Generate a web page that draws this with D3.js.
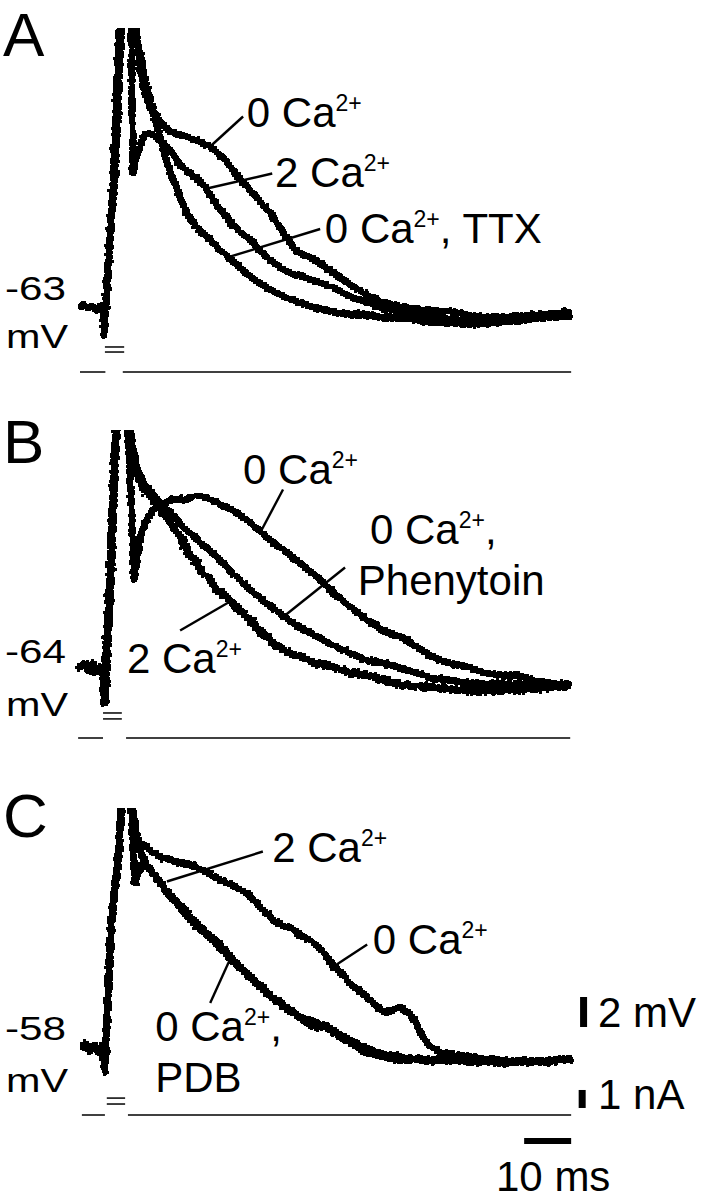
<!DOCTYPE html>
<html lang="en">
<head>
<meta charset="utf-8">
<title>Ca2+ traces</title>
<script src="https://d3js.org/d3.v7.min.js"></script>
<style>
body { margin: 0; background: #fff; }
.trace { fill: none; stroke: #000; stroke-width: 3.4; stroke-linejoin: round; }
.thin { stroke: #000; stroke-width: 1.5; fill: none; }
text { font-family: "Liberation Sans", Arial, sans-serif; fill: #000; }
</style>
</head>
<body>
<div id="container"></div>
<script>
// time in ms, voltage in mV relative to rest, current in nA

// ---- panel A ----
var preA = [[0,0],[0.9,0.2],[1.7,-0.1],[2.6,0.1],[3.4,-0.2],[4.3,0.1],[4.9,-0.1],[5.1,-1.9]];
var a0Ca = [[5.7,1.1],[6.4,4.5],[7.0,7.1],[7.7,11.1],[8.3,15.8],[8.7,18.6],[10.0,23],[11.9,18.6],[12.3,17.1],[12.8,16.0],[13.6,14.5],[14.9,13.3],[16.4,12.7],[18.1,12.0],[19.8,11.6],[22.3,11.4],[25.5,11.0],[27.7,10.7],[29.1,10.3],[30.9,9.8],[32.6,9.1],[34.7,8.3],[36.8,7.6],[38.9,6.8],[41.1,6.0],[43.2,5.0],[45.3,4.0],[46.8,3.6],[50.4,3.1],[53.8,2.3],[57.4,1.5],[61.1,0.8],[64.5,0.3],[68.1,0.0],[73.4,-0.2],[78.7,-0.3],[84.0,-0.6],[89.4,-0.7],[93.6,-0.6],[98.9,-0.5],[104.5,-0.3]];
var a2Ca = [[5.5,0.5],[6.2,3.8],[6.8,7.1],[7.4,11.1],[8.1,16.5],[8.4,18.6],[9.6,23],[10.9,18.6],[11.1,13.8],[11.3,8.9],[11.9,9.8],[12.8,10.8],[13.8,11.5],[14.9,11.6],[16.2,11.3],[17.7,10.9],[19.1,10.5],[21.3,9.5],[23.4,8.9],[25.5,8.4],[27.0,7.8],[29.1,6.8],[30.9,6.1],[32.6,5.4],[34.5,4.9],[36.2,4.5],[37.9,3.9],[39.8,3.3],[41.5,2.9],[43.2,2.5],[45.1,2.2],[46.8,2.1],[50.4,1.7],[53.8,1.3],[57.4,0.7],[61.1,0.3],[64.5,-0.1],[68.1,-0.3],[74.5,-0.6],[80.9,-0.9],[87.2,-0.9],[93.6,-0.7],[98.9,-0.5],[104.5,-0.4]];
var aTTX = [[5.7,1.5],[6.4,4.5],[7.2,7.8],[7.9,11.8],[8.5,16.5],[8.9,18.6],[10.2,23],[11.5,18.6],[12.1,17.9],[12.8,16.8],[13.8,15.1],[14.9,13.8],[16.4,12.1],[17.7,10.5],[19.1,9.1],[20.6,7.9],[21.9,6.9],[23.4,5.9],[25.5,5.1],[27.7,4.5],[29.1,4.0],[31.3,3.4],[33.0,2.9],[35.1,2.3],[37.2,1.8],[39.8,1.3],[43.2,0.7],[46.8,0.3],[50.4,-0.1],[53.8,-0.3],[57.4,-0.5],[61.1,-0.5],[64.5,-0.7],[68.1,-0.7],[74.5,-1.0],[80.9,-1.1],[87.2,-1.1],[93.6,-0.9],[98.9,-0.7],[104.5,-0.6]];

// ---- panel B ----
var preB = [[-0.4,0],[0.9,0.3],[1.7,-0.2],[2.6,0.2],[3.4,-0.3],[4.3,0.1],[4.9,-0.1],[5.3,-2.3]];
var b0Ca = [[5.7,1.2],[6.4,5.2],[7.0,10.5],[7.7,15.2],[7.9,15.9],[9.1,19.3],[10.2,15.9],[10.9,11.2],[11.5,5.9],[12.1,7.2],[13.0,8.9],[14.5,10.1],[16.0,10.7],[18.1,11.0],[20.2,11.3],[22.3,11.2],[24.5,11.5],[26.6,11.4],[29.1,11.0],[32.6,10.5],[36.2,9.7],[39.8,8.7],[43.2,7.9],[46.8,7.0],[51.1,5.9],[54.3,4.9],[57.4,4.1],[61.1,3.2],[64.5,2.5],[68.1,2.1],[71.7,1.4],[75.1,0.7],[78.7,0.3],[82.3,0.1],[85.7,-0.3],[89.4,-0.5],[93.0,-0.5],[96.4,-0.8],[100.0,-1.0],[104.3,-1.1]];
var bPhen = [[5.7,0.9],[6.4,4.5],[7.0,9.9],[7.7,14.9],[7.9,15.9],[9.4,19.2],[10.6,15.9],[11.3,14.5],[12.3,13.2],[13.8,12.2],[15.3,11.7],[17.0,11.0],[18.7,10.5],[20.2,10.1],[21.9,9.4],[23.8,8.9],[25.5,8.4],[29.1,7.4],[32.6,6.3],[36.2,5.2],[39.8,4.3],[43.2,3.5],[46.8,2.7],[50.4,2.1],[53.8,1.5],[57.4,1.0],[61.1,0.5],[64.5,0.3],[68.1,0.0],[75.1,-0.7],[82.3,-1.0],[89.4,-1.1],[96.4,-1.1],[104.3,-1.1]];
var b2Ca = [[5.5,0.5],[6.2,4.5],[6.8,9.9],[7.4,14.9],[7.7,15.9],[9.1,19.2],[10.4,15.9],[11.1,14.2],[12.1,12.9],[13.6,11.9],[15.3,11.4],[17.0,10.5],[18.7,9.9],[20.2,9.2],[21.7,8.5],[23.0,7.7],[24.5,7.2],[26.0,6.3],[27.7,5.9],[29.1,5.2],[30.9,4.9],[32.6,4.3],[34.5,3.7],[36.2,3.2],[37.9,2.5],[39.8,2.1],[41.5,1.5],[43.2,1.3],[45.1,0.9],[46.8,0.8],[50.4,0.3],[53.8,0.1],[57.4,-0.3],[61.1,-0.5],[64.5,-0.8],[68.1,-1.1],[75.1,-1.3],[82.3,-1.5],[89.4,-1.5],[96.4,-1.4],[104.3,-1.2]];

// ---- panel C ----
var preC = [[0.4,0],[1.3,0.3],[2.1,-0.2],[3.0,0.2],[3.8,-0.3],[4.7,0.1],[5.3,-1.6]];
var c0Ca = [[5.7,1.7],[6.4,6.1],[7.0,9.4],[7.9,11.7],[8.5,13.9],[8.9,16.0],[10.0,18.5],[11.1,16.0],[11.7,14.5],[12.3,13.9],[13.8,13.5],[15.3,13.1],[17.4,12.7],[19.8,12.5],[22.3,12.3],[24.5,12.1],[27.0,11.7],[29.1,11.3],[31.3,11.0],[34.7,10.5],[36.6,10.0],[38.3,9.4],[40.0,8.9],[41.9,8.3],[43.6,8.1],[45.1,8.0],[46.8,7.5],[48.9,7.2],[51.5,6.5],[53.8,5.5],[56.0,4.9],[57.4,4.3],[61.1,3.4],[64.5,2.4],[66.4,2.5],[68.1,2.7],[70.2,2.3],[72.3,1.2],[73.8,0.3],[76.6,-0.3],[80.9,-0.5],[85.7,-0.7],[93.0,-0.9],[100.0,-0.9],[104.5,-0.7]];
var c2Ca = [[5.5,1.2],[6.2,5.9],[6.8,9.2],[7.7,11.5],[8.3,13.9],[8.7,16.0],[9.8,18.5],[10.9,16.0],[11.3,13.2],[11.7,11.0],[12.3,11.5],[13.2,12.2],[14.5,12.0],[16.0,11.5],[17.4,10.9],[19.1,10.1],[20.6,9.7],[22.3,9.0],[24.5,8.2],[27.0,7.5],[29.8,6.7],[32.6,5.7],[34.5,5.2],[36.2,4.7],[37.9,4.2],[39.8,3.7],[41.5,3.2],[43.2,2.8],[45.1,2.4],[46.8,2.0],[48.5,1.6],[50.4,1.3],[52.1,1.5],[53.8,1.0],[55.7,0.7],[57.4,0.4],[61.1,-0.3],[64.5,-0.6],[68.1,-0.8],[75.1,-0.7],[82.3,-0.9],[89.4,-0.9],[96.4,-0.9],[104.5,-0.7]];
var cPDB = [[5.7,1.5],[6.4,6.0],[7.0,9.3],[7.9,11.6],[8.5,13.9],[8.9,16.0],[10.0,18.5],[11.3,16.0],[11.9,14.2],[12.8,13.1],[13.8,12.4],[15.3,11.7],[17.0,11.1],[18.7,10.3],[20.6,9.7],[22.3,9.2],[24.5,8.4],[27.0,7.7],[29.8,6.9],[32.6,5.9],[35.1,5.1],[37.9,4.3],[40.4,3.5],[43.2,2.9],[46.8,2.1],[50.4,1.7],[53.8,1.2],[57.4,0.5],[61.1,0.0],[64.5,-0.4],[68.1,-0.6],[75.1,-0.9],[82.3,-0.8],[89.4,-1.0],[96.4,-0.9],[104.5,-0.8]];

// injected current: baseline pieces, pulse window and the two pulse levels
var currentBaseA = [[0,5.4],[9.1,104.5]], pulseA = [5.3,9.4], pulseLevelsA = [1.39,1.11];
var currentBaseB = [[-0.4,4.9],[9.8,104.3]], pulseB = [4.9,8.9], pulseLevelsB = [1.39,1.06];
var currentBaseC = [[0.4,5.3],[10.2,104.5]], pulseC = [5.7,9.6], pulseLevelsC = [0.94,0.61];

// labels [text, sup, rest, t, mV] and leader lines [t1,v1,t2,v2]
var labelsA = [["0 Ca","2+","",35.5,12.0],["2 Ca","2+","",41.5,8.0],["0 Ca","2+",", TTX",52.1,4.3]];
var leadersA = [[27.7,10.7,34.7,12.7],[27.0,7.9,40.9,8.9],[31.3,3.3,51.1,5.2]];
var labelsB = [["0 Ca","2+","",34.7,12.3],["0 Ca","2+",",",61.7,8.3],["Phenytoin","","",59.1,4.9],["2 Ca","2+","",10.0,-0.3]];
var leadersB = [[38.3,9.0,43.2,11.9],[43.2,3.4,56.4,6.7],[21.3,2.5,32.3,4.5]];
var labelsC = [["2 Ca","2+","",40.9,12.4],["0 Ca","2+","",62.3,6.3],["0 Ca","2+",",",16.0,0.5],["PDB","","",16.0,-2.9]];
var leadersC = [[18.5,11.1,38.9,13.1],[53.8,5.4,61.1,6.9],[27.7,3.0,31.9,5.9]];

var restLabels = ["-63","-64","-58"];
var scaleBarMV = 2, scaleBarNA = 1, scaleBarMS = 10;

var w = 712, h = 1199;
var svg = d3.select("div#container").append("svg")
  .attr("width", w).attr("height", h)
  .style("background", "#fff");

// rough up the traces so they look like noisy recordings, then make them crisp and bold
var defs = svg.append("defs");
function noiseFilter(id, freq, amount, seed) {
  var f = defs.append("filter").attr("id", id)
    .attr("filterUnits", "userSpaceOnUse")
    .attr("x", 0).attr("y", 0).attr("width", w).attr("height", h);
  f.append("feTurbulence").attr("type", "fractalNoise").attr("baseFrequency", freq)
    .attr("numOctaves", 2).attr("seed", seed).attr("result", "n");
  f.append("feDisplacementMap").attr("in", "SourceGraphic").attr("in2", "n")
    .attr("scale", amount).attr("xChannelSelector", "R").attr("yChannelSelector", "G").attr("result", "d");
  f.append("feComponentTransfer").attr("in", "d").attr("result", "c")
    .append("feFuncA").attr("type", "discrete").attr("tableValues", "0 1 1 1");
  f.append("feMorphology").attr("in", "c").attr("operator", "dilate").attr("radius", 0.9);
}
noiseFilter("noisy", 0.7, 6.5, 4);
noiseFilter("noisier", 0.55, 10, 7);

var x = d3.scaleLinear().domain([0, 10]).range([80, 127]);   // 4.7 px per ms

var panels = [
  {id: "A", letterY: 56, base: 307, top: 28, cbase: 372, pre: preA, traces: [a0Ca, a2Ca, aTTX], noise: ["noisy","noisy","noisy"],
   cur: currentBaseA, pulse: pulseA, levels: pulseLevelsA, labels: labelsA, leaders: leadersA, rest: restLabels[0], restY: 300, mvY: 348},
  {id: "B", letterY: 463, base: 668, top: 430, cbase: 738, pre: preB, traces: [b0Ca, bPhen, b2Ca], noise: ["noisy","noisy","noisier"],
   cur: currentBaseB, pulse: pulseB, levels: pulseLevelsB, labels: labelsB, leaders: leadersB, rest: restLabels[1], restY: 663, mvY: 716},
  {id: "C", letterY: 837, base: 1048, top: 808, cbase: 1115, pre: preC, traces: [c0Ca, c2Ca, cPDB], noise: ["noisy","noisy","noisy"],
   cur: currentBaseC, pulse: pulseC, levels: pulseLevelsC, labels: labelsC, leaders: leadersC, rest: restLabels[2], restY: 1040, mvY: 1092}
];

panels.forEach(function(p) {
  var y = d3.scaleLinear().domain([0, 10]).range([p.base, p.base - 150]);   // 15 px per mV
  var yi = d3.scaleLinear().domain([0, 1]).range([p.cbase, p.cbase - 18]);  // 18 px per nA
  var line = d3.line().x(function(d) { return x(d[0]); }).y(function(d) { return y(d[1]); });

  var g = svg.append("g");

  defs.append("clipPath").attr("id", "clip" + p.id)
    .append("rect").attr("x", 0).attr("y", p.top).attr("width", w).attr("height", p.cbase - p.top);

  g.append("text").attr("x", 3).attr("y", p.letterY).style("font-size", "62px").text(p.id);
  g.append("text").attr("x", 5).attr("y", p.restY).style("font-size", "34px")
    .attr("textLength", 61).attr("lengthAdjust", "spacingAndGlyphs").text(p.rest);
  g.append("text").attr("x", 6).attr("y", p.mvY).style("font-size", "34px")
    .attr("textLength", 62).attr("lengthAdjust", "spacingAndGlyphs").text("mV");

  g.append("g").attr("clip-path", "url(#clip" + p.id + ")")
    .selectAll("path").data(p.traces).enter().append("path")
      .attr("class", "trace")
      .attr("filter", function(d, i) { return "url(#" + p.noise[i] + ")"; })
      .attr("d", function(d) { return line(p.pre.concat(d)); });

  // current monitor
  g.selectAll("line.cb").data(p.cur).enter().append("line").attr("class", "thin")
    .attr("x1", function(d) { return x(d[0]); }).attr("x2", function(d) { return x(d[1]); })
    .attr("y1", yi(0)).attr("y2", yi(0));
  g.selectAll("line.pl").data(p.levels).enter().append("line").attr("class", "thin")
    .attr("x1", x(p.pulse[0])).attr("x2", x(p.pulse[1]))
    .attr("y1", function(d) { return yi(d); }).attr("y2", function(d) { return yi(d); });

  // leader lines and labels
  g.selectAll("line.ld").data(p.leaders).enter().append("line")
    .attr("stroke", "#000").attr("stroke-width", 2.4)
    .attr("x1", function(d) { return x(d[0]); }).attr("y1", function(d) { return y(d[1]); })
    .attr("x2", function(d) { return x(d[2]); }).attr("y2", function(d) { return y(d[3]); });

  p.labels.forEach(function(l) {
    var t = g.append("text").attr("x", x(l[3])).attr("y", y(l[4])).style("font-size", "42px");
    t.append("tspan").text(l[0]);
    if (l[1]) t.append("tspan").attr("dy", -16).style("font-size", "23px").text(l[1]);
    if (l[2]) t.append("tspan").attr("dy", l[1] ? 16 : 0).text(l[2]);
  });

  if (p.id === "C") {
    svg.append("rect").attr("x", x(106.4)).attr("y", y(1.4 + scaleBarMV)).attr("width", 7)
      .attr("height", y(1.4) - y(1.4 + scaleBarMV));
    svg.append("text").attr("x", 598).attr("y", y(1.4)).style("font-size", "42px").text(scaleBarMV + " mV");
    svg.append("rect").attr("x", x(106.1)).attr("y", yi(0.39 + scaleBarNA)).attr("width", 7)
      .attr("height", yi(0.39) - yi(0.39 + scaleBarNA));
    svg.append("text").attr("x", 598).attr("y", yi(0.34)).style("font-size", "42px").text(scaleBarNA + " nA");
    svg.append("rect").attr("x", x(104.5 - scaleBarMS)).attr("y", 1138)
      .attr("width", x(104.5) - x(104.5 - scaleBarMS)).attr("height", 6);
    svg.append("text").attr("x", 496).attr("y", 1191).style("font-size", "42px").text(scaleBarMS + " ms");
  }
});
</script>
</body>
</html>
